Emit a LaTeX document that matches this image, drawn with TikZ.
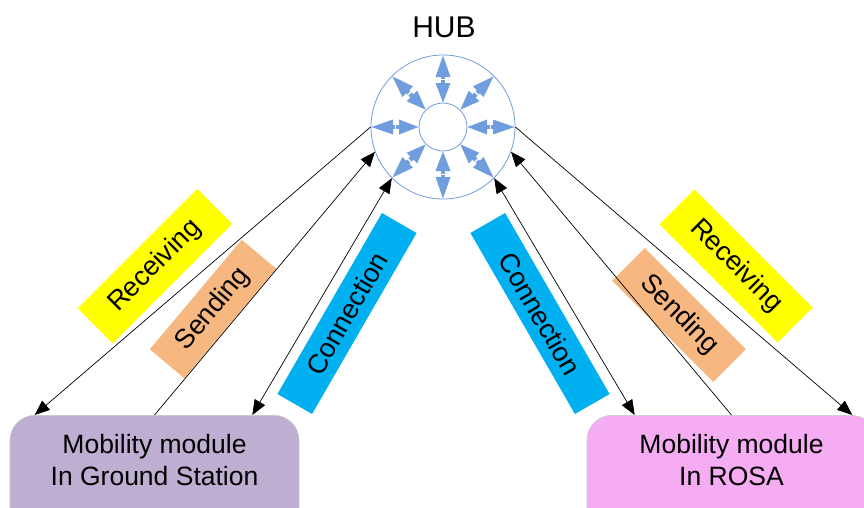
\documentclass[tikz,border=0pt]{standalone}
\usepackage{fontspec}
\setmainfont{Liberation Sans}
\usetikzlibrary{arrows.meta,calc}

\definecolor{hubblue}{RGB}{112,157,222}
\definecolor{gsfill}{RGB}{190,174,210}
\definecolor{rosafill}{RGB}{246,172,243}
\definecolor{recvfill}{RGB}{255,255,0}
\definecolor{sendfill}{RGB}{247,183,128}
\definecolor{connfill}{RGB}{0,176,240}
\definecolor{boxedge}{RGB}{200,200,205}

\tikzset{
  link/.style={draw=black, line width=0.7pt},
  tip/.style={-{Triangle[length=15pt,width=12pt]}},
  tips/.style={{Triangle[length=15pt,width=12pt]}-{Triangle[length=15pt,width=12pt]}},
  modbox/.style={draw=boxedge, line width=0.6pt, rounded corners=25pt,
    minimum width=289pt, minimum height=130pt, inner sep=0pt, anchor=north},
  modtext/.style={align=center, inner sep=0pt,
    font=\fontsize{26.5}{32}\selectfont},
  tag/.style={inner sep=0pt, font=\fontsize{27}{32}\selectfont},
}

\begin{document}
\begin{tikzpicture}[x=1pt,y=-1pt]
\useasboundingbox (0,0) rectangle (864,507);
\clip (0,0) rectangle (864,507);

% hub with its eight two-way arrows
\node[circle, draw=hubblue, line width=0.8pt, minimum size=144pt, inner sep=0pt] (hub) at (443,127) {};
\node[circle, draw=hubblue, line width=0.8pt, minimum size=48pt, inner sep=0pt] (core) at (hub.center) {};
\foreach \a in {0,45,...,315} {
  \begin{scope}[shift={(hub.center)}, rotate=\a]
    \fill[hubblue] (71.5pt,0pt) -- (50pt,7.5pt) -- (50pt,-7.5pt) -- cycle;
    \fill[hubblue] (24.5pt,0pt) -- (44pt,7.5pt) -- (44pt,-7.5pt) -- cycle;
    \fill[hubblue] (43pt,-2.2pt) rectangle (51pt,2.2pt);
    \draw[white, line width=1.4pt] (47.5pt,-3pt) -- (47.5pt,3pt);
  \end{scope}
}
\node[font=\fontsize{30}{36}\selectfont, anchor=base] (hubtitle) at (444,37) {HUB};

% mobility modules
\node[modbox, fill=gsfill] (gs) at (154.5,415) {};
\node[modtext] (gstext) at (154.5,460.5) {Mobility module\\In Ground Station};
\node[modbox, fill=rosafill] (rosa) at (731.5,415) {};
\node[modtext] (rosatext) at (731.5,460.5) {Mobility module\\In ROSA};

% channel tags
\node[tag, fill=recvfill, minimum width=169pt, minimum height=49.5pt, rotate=45] (recvL) at (155,266) {Receiving};
\node[tag, fill=sendfill, minimum width=143pt, minimum height=45pt, rotate=50] (sendL) at (213,309) {Sending};
\node[tag, fill=connfill, minimum width=209pt, minimum height=40pt, rotate=60] (connL) at (347,313.5) {Connection};
\node[tag, fill=connfill, minimum width=209pt, minimum height=40pt, rotate=-60] (connR) at (540,313.5) {Connection};
\node[tag, fill=sendfill, minimum width=143pt, minimum height=46pt, rotate=-45] (sendR) at (679,315) {Sending};
\node[tag, fill=recvfill, minimum width=167pt, minimum height=49.5pt, rotate=-45] (recvR) at (736,266) {Receiving};

% links between hub and modules
\draw[link, tip] (hub.180) -- ([xshift=25pt]gs.north west);
\draw[link, tip] (gs.north) -- (hub.200);
\draw[link, tips] ([xshift=-47pt]gs.north east) -- (hub.225);
\draw[link, tip] (hub.0) -- ([xshift=-24pt]rosa.north east);
\draw[link, tip] (rosa.north) -- (hub.-20);
\draw[link, tips] ([xshift=48pt]rosa.north west) -- (hub.-45);
\end{tikzpicture}
\end{document}
